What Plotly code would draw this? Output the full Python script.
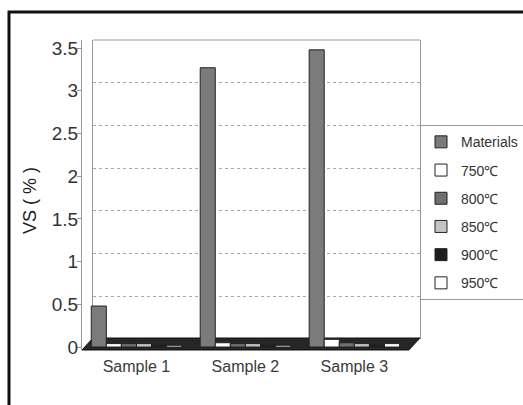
import plotly.graph_objects as go

# Data
samples = ["Sample 1", "Sample 2", "Sample 3"]
series_names = ["Materials", "750℃", "800℃", "850℃", "900℃", "950℃"]
materials = [0.48, 3.27, 3.48]
t750 = [0.04, 0.05, 0.09]
t800 = [0.04, 0.04, 0.05]
t850 = [0.04, 0.04, 0.04]
t900 = [0.03, 0.03, 0.03]
t950 = [0.02, 0.02, 0.04]
y_ticks = [0, 0.5, 1, 1.5, 2, 2.5, 3, 3.5]
y_tick_text = ["0", "0.5", "1", "1.5", "2", "2.5", "3", "3.5"]

series_values = [materials, t750, t800, t850, t900, t950]
fills = ["#7b7b7b", "#ffffff", "#6f6f6f", "#c4c4c4", "#1e1e1e", "#ffffff"]

FONT = "Liberation Sans, Arial, sans-serif"

fig = go.Figure()

# empty trace so the back-wall subplot (x, y) gets drawn
fig.add_trace(go.Scatter(x=[], y=[], xaxis="x", yaxis="y",
                         showlegend=False, hoverinfo="skip"))

for name, vals, col in zip(series_names, series_values, fills):
    fig.add_trace(go.Bar(
        x=samples, y=vals, name=name, legendgroup=name,
        marker=dict(color=col, line=dict(color="#222222", width=1)),
        xaxis="x2", yaxis="y2",
    ))

fig.update_layout(
    width=523, height=405,
    margin=dict(l=82, r=103, t=40, b=55, autoexpand=False),
    paper_bgcolor="white",
    plot_bgcolor="rgba(0,0,0,0)",
    barmode="group",
    bargap=0.17,
    bargroupgap=0,
    font=dict(family=FONT, size=16, color="#333333"),
    showlegend=True,
    legend=dict(
        x=1.0, xanchor="left", y=0.725, yanchor="top",
        bordercolor="#9a9a9a", borderwidth=1, bgcolor="white",
        font=dict(family=FONT, size=14, color="#333333"),
        traceorder="grouped", itemwidth=30, tracegroupgap=7,
    ),
    # back wall with dotted gridlines
    xaxis=dict(domain=[0.0325, 1], range=[0, 1], showgrid=False, zeroline=False,
               showticklabels=False, showline=False, ticks=""),
    yaxis=dict(domain=[0.0355, 1], range=[0, 3.5], showgrid=True, gridcolor="#a8a8a8",
               griddash="dot", gridwidth=1, zeroline=False, showticklabels=False,
               tickvals=[0.5, 1, 1.5, 2, 2.5, 3], showline=True, mirror=True,
               linecolor="#9a9a9a", linewidth=1, ticks="", anchor="x"),
    # front plane carrying the bars and labels
    xaxis2=dict(domain=[0, 0.967], showgrid=False, zeroline=False, showline=False,
                ticks="", anchor="y2", ticklabelstandoff=5,
                tickfont=dict(size=16, color="#3a3a3a")),
    yaxis2=dict(domain=[0, 1], range=[-0.035, 3.595], showgrid=False, zeroline=False,
                tickvals=y_ticks, ticktext=y_tick_text, showline=True,
                linecolor="#9a9a9a", linewidth=1, ticks="outside", ticklen=4,
                tickcolor="#9a9a9a", anchor="x2", ticklabelstandoff=-5,
                tickfont=dict(size=19, color="#333333")),
)

# dark floor under the bars
fig.add_shape(type="path", xref="paper", yref="paper", layer="below",
              path="M 0,0 L 0.967,0 L 1.0,0.0387 L 0.0325,0.0387 Z",
              fillcolor="#262626", line=dict(color="#111111", width=1))
# top edge of the back wall
fig.add_shape(type="line", xref="paper", yref="paper",
              x0=0.0325, x1=1, y0=1, y1=1, line=dict(color="#9a9a9a", width=1))
# outer frame
fig.add_shape(type="rect", xref="paper", yref="paper",
              x0=-0.216, x1=1.4, y0=-0.3, y1=1.09,
              line=dict(color="#111111", width=3), fillcolor="rgba(0,0,0,0)")

fig.add_annotation(text="VS ( % )", xref="paper", yref="paper",
                   x=-0.154, y=0.484, xanchor="center", yanchor="middle",
                   textangle=-90, showarrow=False,
                   font=dict(family=FONT, size=18, color="#222222"))

fig.write_html("out.html")
